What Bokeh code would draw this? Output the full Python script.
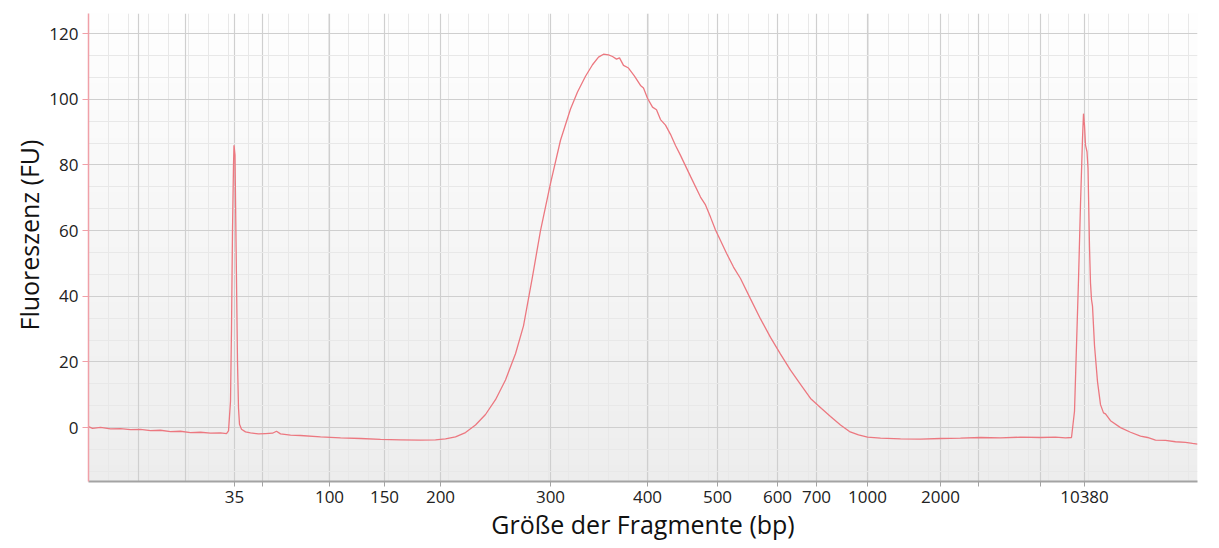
import numpy as np
from bokeh.plotting import figure
from bokeh.models import FixedTicker, Grid, Title, Range1d
from bokeh.embed import file_html
from bokeh.resources import INLINE

# migration time (s) and fluorescence (FU)
time_s = [20.0, 20.4, 21.2, 22.2, 23.2, 24.2, 25.2, 26.2, 27.2, 28.2, 29.2, 30.2, 31.2, 32.2, 33.2, 33.8,
          34.0, 34.2, 34.3, 34.4, 34.5, 34.55, 34.65, 34.7, 34.8, 34.9, 35.0, 35.1, 35.3, 35.7, 36.2,
          37.0, 37.7, 38.4, 38.8, 39.2, 40.2, 41.2, 43.2, 45.2, 47.2, 49.2, 51.2, 53.2, 54.7, 55.7,
          56.7, 57.7, 58.7, 59.7, 60.7, 61.7, 62.7, 63.5, 64.4, 65.2, 66.2, 67.2, 68.2, 68.9, 69.7,
          70.4, 71.0, 71.5, 72.0, 72.4, 72.8, 73.1, 73.5, 74.0, 74.6, 75.2, 75.5, 75.9, 76.4, 76.8,
          77.2, 77.7, 78.2, 78.7, 79.2, 80.2, 81.2, 81.7, 82.2, 82.7, 83.2, 83.8, 84.5, 85.2, 86.2,
          87.2, 88.2, 89.2, 90.2, 91.2, 92.2, 93.3, 94.2, 95.2, 96.1, 97.0, 97.9, 99.2, 101.2, 103.2,
          105.2, 107.2, 109.2, 111.2, 113.2, 115.2, 116.7, 117.7, 118.3, 118.6, 118.8, 119.0, 119.2,
          119.4, 119.5, 119.6, 119.7, 119.85, 119.95, 120.1, 120.2, 120.3, 120.4, 120.6, 120.9, 121.2,
          121.5, 121.7, 122.2, 123.2, 124.2, 125.2, 125.9, 126.7, 127.7, 128.7, 129.7, 130.4, 130.9]
fluorescence = [0.3, -0.2, 0.1, -0.4, -0.3, -0.6, -0.5, -0.9, -0.8, -1.2, -1.1, -1.5, -1.4, -1.7, -1.6, -1.8,
                -1.0, 8, 30, 60, 80, 86, 83, 70, 45, 20, 6, 1, -0.5, -1.3, -1.6,
                -1.9, -1.8, -1.7, -1.1, -1.9, -2.3, -2.4, -2.8, -3.1, -3.3, -3.6, -3.7, -3.8, -3.7, -3.4,
                -2.8, -1.5, 0.8, 4.0, 8.5, 14.5, 22.5, 31, 46, 60, 74.4, 87.5, 97, 102.2, 107,
                110.5, 112.8, 113.7, 113.5, 113.0, 112.2, 112.6, 110.3, 109.5, 107.0, 104.2, 103.4, 100.3, 97.6, 96.8,
                93.8, 92.1, 89.3, 85.9, 82.9, 76.5, 70.2, 67.8, 64.1, 60.2, 57.0, 53.1, 48.9, 45.4, 39.2,
                33.1, 27.5, 22.4, 17.5, 13.2, 8.9, 5.8, 3.4, 0.8, -1.2, -2.2, -2.9, -3.2, -3.4, -3.5,
                -3.3, -3.2, -3.0, -3.1, -2.9, -3.0, -2.9, -3.1, -3.0, 5, 25, 45, 68,
                88, 95.6, 92, 86, 84, 79, 55, 44, 39, 37, 25, 14, 7,
                4.5, 4.2, 2.1, 0, -1.4, -2.6, -3.0, -3.8, -3.9, -4.3, -4.5, -4.8, -5.0]

# ladder positions (s) and their size labels (bp)
ladder_time = [34.6, 37.4, 44.1, 49.6, 55.2, 66.2, 75.9, 82.9, 88.9, 92.8, 97.9, 105.2, 109.0, 115.2, 119.6]
ladder_label = ["35", "", "100", "150", "200", "300", "400", "500", "600", "700", "1000", "2000", "", "", "10380"]
extra_grid_time = [25.0, 29.7]
y_ticks = [0, 20, 40, 60, 80, 100, 120]

X0, X1 = 20.0, 130.9
Y0, Y1 = -16.4, 126.1

p = figure(width=1219, height=548, output_backend="svg", toolbar_location=None,
           x_range=Range1d(X0, X1), y_range=Range1d(Y0, Y1),
           min_border_left=88, min_border_right=22, min_border_top=13, min_border_bottom=67)
p.outline_line_color = None
p.background_fill_color = "white"
p.border_fill_color = "white"

# soft vertical gradient behind the plot
n = 120
img = np.empty((n, 1), dtype=np.uint32)
view = img.view(dtype=np.uint8).reshape((n, 1, 4))
for i in range(n):
    f = i / (n - 1)
    g = int(round(237 + (254 - 237) * f))
    view[i, 0, :] = [g, g, g, 255]
bg = p.image_rgba(image=[img], x=X0, y=Y0, dw=X1 - X0, dh=Y1 - Y0)
bg.level = "image"

minor_x = list(np.arange(20.0, 131.0, 2.0))
p.xaxis.ticker = FixedTicker(ticks=ladder_time, minor_ticks=minor_x)
minor_y = [v for v in np.arange(-20.0, 127.0, 20.0 / 3.0) if abs(v / 20.0 - round(v / 20.0)) > 1e-6]
p.yaxis.ticker = FixedTicker(ticks=y_ticks, minor_ticks=minor_y)

for g in (p.xgrid, p.ygrid):
    g.grid_line_color = "#cfcfcf"
    g.grid_line_width = 1.2
    g.minor_grid_line_color = "#e8e8e8"
    g.minor_grid_line_width = 1
p.add_layout(Grid(dimension=0, ticker=FixedTicker(ticks=extra_grid_time),
                  grid_line_color="#cfcfcf", grid_line_width=1.2))

p.line(time_s, fluorescence, line_color="#ec7880", line_width=1.3)

font = "Open Sans"
xa = p.xaxis[0]
xa.axis_line_color = "#a3a3a3"
xa.axis_line_width = 2
xa.major_tick_line_color = "#a3a3a3"
xa.major_tick_out = 5
xa.major_tick_in = 0
xa.minor_tick_line_color = None
xa.major_label_text_font = font
xa.major_label_text_font_size = "17px"
xa.major_label_text_color = "#222222"
xa.major_label_standoff = 4
xa.major_label_overrides = {t: lab for t, lab in zip(ladder_time, ladder_label)}
xa.axis_label = "Größe der Fragmente (bp)"
xa.axis_label_text_font = font
xa.axis_label_text_font_size = "25px"
xa.axis_label_text_font_style = "normal"
xa.axis_label_text_color = "#111111"
xa.axis_label_standoff = 1

ya = p.yaxis[0]
ya.axis_line_color = "#f0a0a8"
ya.axis_line_width = 1.5
ya.major_tick_line_color = "#f0a0a8"
ya.major_tick_out = 6
ya.major_tick_in = 0
ya.minor_tick_line_color = None
ya.major_label_text_font = font
ya.major_label_text_font_size = "17px"
ya.major_label_text_color = "#222222"
ya.major_label_standoff = 4

p.add_layout(Title(text="Fluoreszenz (FU)", align="left", offset=151, standoff=2,
                   text_font=font, text_font_size="25px", text_font_style="normal",
                   text_color="#111111"), "left")

open("out.html", "w").write(file_html(p, INLINE))
